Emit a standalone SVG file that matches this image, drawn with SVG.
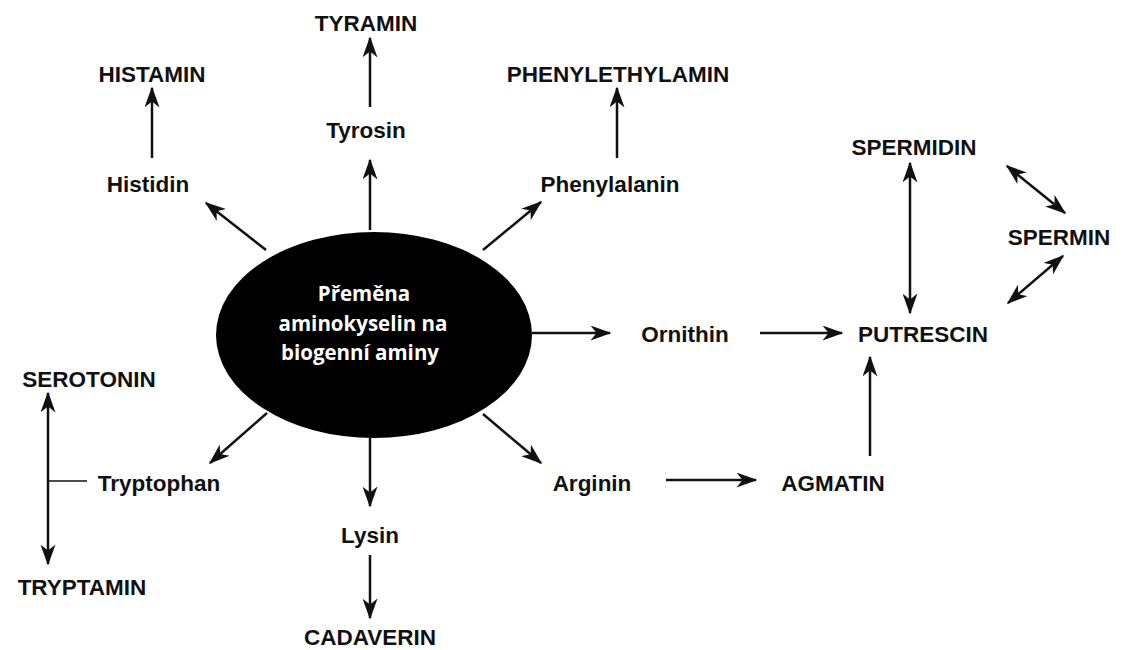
<svg xmlns="http://www.w3.org/2000/svg" width="1127" height="650" viewBox="0 0 1127 650">
<style>
.t{font-family:"Liberation Sans",Arial,sans-serif;font-weight:bold;font-size:22.5px;fill:#111;text-anchor:middle}
.c{font-family:"Open Sans","Liberation Sans",sans-serif;font-weight:bold;font-size:20.5px;fill:#fff;text-anchor:middle}
.l{stroke:#111;stroke-width:2.5;fill:none}
.a{marker-end:url(#ah)}
.d{marker-end:url(#ah);marker-start:url(#as)}
</style>
<defs>
<marker id="ah" viewBox="0 0 14 10" refX="13" refY="5" markerWidth="8.5" markerHeight="6" orient="auto" markerUnits="strokeWidth">
<path d="M0,0 L14,5 L0,10 L4,5 z" fill="#111"/>
</marker>
<marker id="as" viewBox="0 0 14 10" refX="1" refY="5" markerWidth="8.5" markerHeight="6" orient="auto" markerUnits="strokeWidth">
<path d="M14,0 L0,5 L14,10 L10,5 z" fill="#111"/>
</marker>
</defs>
<rect width="1127" height="650" fill="#fff"/>
<g id="center">
<ellipse cx="374" cy="335" rx="158" ry="103" fill="#000"/>
<text class="c" x="364" y="301">Přeměna</text>
<text class="c" x="363" y="331">aminokyselin na</text>
<text class="c" x="360" y="360">biogenní aminy</text>
</g>
<g id="tyramin"><text class="t" x="366" y="31">TYRAMIN</text></g>
<g id="tyrosin"><text class="t" x="366" y="138">Tyrosin</text></g>
<g id="histamin"><text class="t" x="152" y="82">HISTAMIN</text></g>
<g id="histidin"><text class="t" x="148" y="192">Histidin</text></g>
<g id="phenylethylamin"><text class="t" x="618" y="82">PHENYLETHYLAMIN</text></g>
<g id="phenylalanin"><text class="t" x="610" y="192">Phenylalanin</text></g>
<g id="ornithin"><text class="t" x="685" y="342">Ornithin</text></g>
<g id="putrescin"><text class="t" x="923" y="342">PUTRESCIN</text></g>
<g id="spermidin"><text class="t" x="914" y="155">SPERMIDIN</text></g>
<g id="spermin"><text class="t" x="1059" y="245">SPERMIN</text></g>
<g id="arginin"><text class="t" x="592" y="491">Arginin</text></g>
<g id="agmatin"><text class="t" x="833" y="491">AGMATIN</text></g>
<g id="lysin"><text class="t" x="370" y="543">Lysin</text></g>
<g id="cadaverin"><text class="t" x="370" y="645">CADAVERIN</text></g>
<g id="tryptophan"><text class="t" x="159" y="491">Tryptophan</text></g>
<g id="serotonin"><text class="t" x="89" y="387">SEROTONIN</text></g>
<g id="tryptamin"><text class="t" x="82" y="595">TRYPTAMIN</text></g>
<g id="connectors">
<line class="l a" x1="370" y1="107" x2="370" y2="38"/>
<line class="l a" x1="370" y1="230" x2="370" y2="160"/>
<line class="l a" x1="152" y1="158" x2="152" y2="88"/>
<line class="l a" x1="266" y1="250" x2="206" y2="203"/>
<line class="l a" x1="617" y1="158" x2="617" y2="88"/>
<line class="l a" x1="483" y1="250" x2="541" y2="202"/>
<line class="l a" x1="532" y1="333" x2="610" y2="333"/>
<line class="l a" x1="760" y1="333" x2="842" y2="333"/>
<line class="l d" x1="910" y1="163" x2="910" y2="313"/>
<line class="l d" x1="1007" y1="166" x2="1065" y2="213"/>
<line class="l d" x1="1063" y1="256" x2="1008" y2="303"/>
<line class="l a" x1="483" y1="414" x2="541" y2="463"/>
<line class="l a" x1="666" y1="480" x2="756" y2="480"/>
<line class="l a" x1="870" y1="456" x2="870" y2="357"/>
<line class="l a" x1="370" y1="438" x2="370" y2="506"/>
<line class="l a" x1="370" y1="555" x2="370" y2="618"/>
<line class="l a" x1="267" y1="413" x2="210" y2="463"/>
<line class="l d" x1="48" y1="393" x2="48" y2="564"/>
<line stroke="#111" stroke-width="1.5" x1="48" y1="481" x2="87" y2="481"/>
</g>
</svg>
